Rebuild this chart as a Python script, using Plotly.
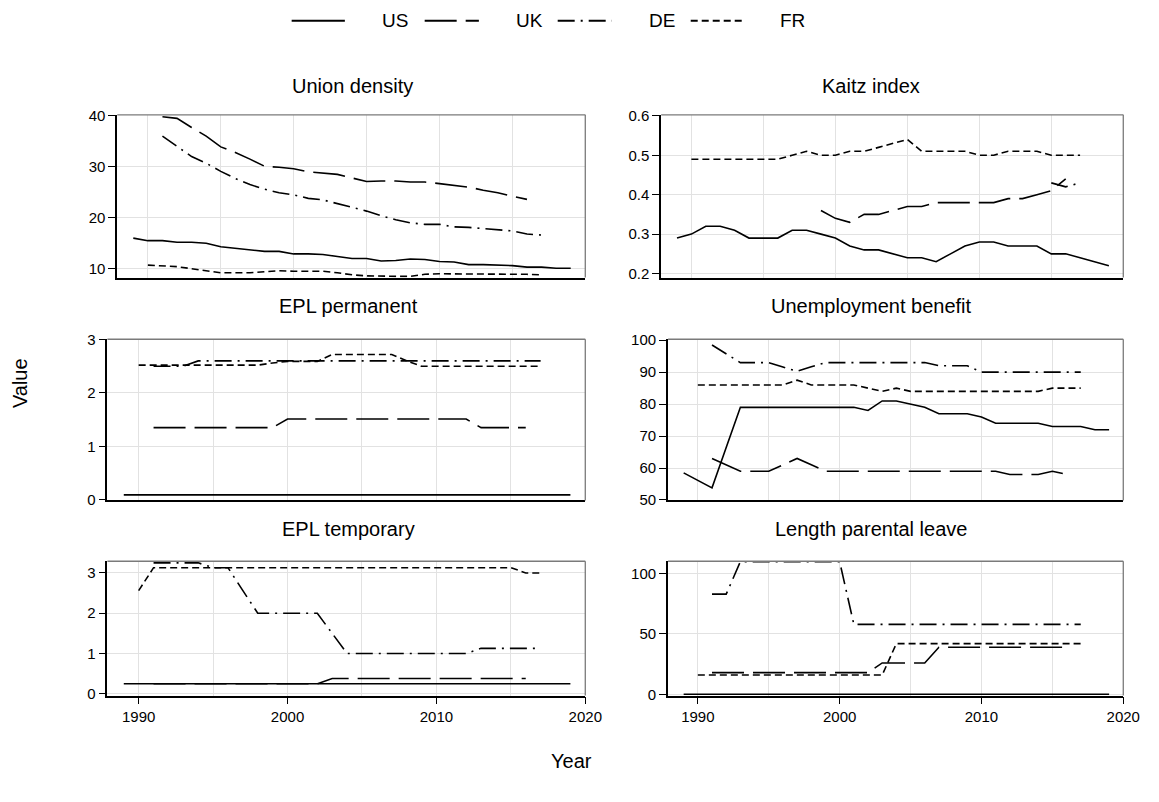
import plotly.graph_objects as go

W, H = 1159, 802
FONT = "Liberation Sans, Arial, Helvetica, sans-serif"

# ---------------- data ----------------
COUNTRIES = ["US", "UK", "DE", "FR"]

# Union density
ud_us_start, ud_us = 1989, [16.0, 15.5, 15.5, 15.2, 15.2, 15.0, 14.3, 14.0, 13.6, 13.4, 13.4, 12.9, 12.9, 12.8, 12.4, 12.0,
                            12.0, 11.5, 11.6, 11.9, 11.8, 11.4, 11.3, 10.8, 10.8, 10.7, 10.6, 10.3, 10.3, 10.1, 10.1]
ud_uk_start, ud_uk = 1991, [39.8, 39.5, 37.7, 36.0, 33.9, 32.8, 31.5, 30.1, 29.9, 29.6, 29.0, 28.7, 28.5, 27.8, 27.1,
                            27.2, 27.2, 27.0, 27.0, 26.7, 26.4, 26.0, 25.4, 24.9, 24.2, 23.6]
ud_de_start, ud_de = 1991, [36.0, 34.0, 32.0, 30.7, 29.1, 27.7, 26.5, 25.6, 24.9, 24.5, 23.8, 23.5, 22.8, 22.1, 21.3,
                            20.4, 19.6, 19.0, 18.7, 18.7, 18.2, 18.1, 17.9, 17.7, 17.4, 16.8, 16.6]
ud_fr_start, ud_fr = 1990, [10.7, 10.5, 10.4, 10.0, 9.6, 9.2, 9.2, 9.2, 9.4, 9.6, 9.5, 9.5, 9.5, 9.2, 8.8, 8.6, 8.5,
                            8.5, 8.5, 8.9, 9.0, 9.0, 9.0, 9.0, 9.0, 8.9, 8.9, 8.8]

# Kaitz index
kz_us_start, kz_us = 1989, [0.29, 0.30, 0.32, 0.32, 0.31, 0.29, 0.29, 0.29, 0.31, 0.31, 0.30, 0.29, 0.27, 0.26, 0.26,
                            0.25, 0.24, 0.24, 0.23, 0.25, 0.27, 0.28, 0.28, 0.27, 0.27, 0.27, 0.25, 0.25, 0.24, 0.23, 0.22]
kz_uk_start, kz_uk = 1999, [0.36, 0.34, 0.33, 0.35, 0.35, 0.36, 0.37, 0.37, 0.38, 0.38, 0.38, 0.38, 0.38, 0.39, 0.39,
                            0.40, 0.41, 0.44]
kz_de_start, kz_de = 2015, [0.43, 0.42, 0.43]
kz_fr_start, kz_fr = 1990, [0.49, 0.49, 0.49, 0.49, 0.49, 0.49, 0.49, 0.50, 0.51, 0.50, 0.50, 0.51, 0.51, 0.52, 0.53,
                            0.54, 0.51, 0.51, 0.51, 0.51, 0.50, 0.50, 0.51, 0.51, 0.51, 0.50, 0.50, 0.50]

# EPL permanent
ep_us_start, ep_us = 1989, [0.09, 0.09, 0.09, 0.09, 0.09, 0.09, 0.09, 0.09, 0.09, 0.09, 0.09, 0.09, 0.09, 0.09, 0.09,
                            0.09, 0.09, 0.09, 0.09, 0.09, 0.09, 0.09, 0.09, 0.09, 0.09, 0.09, 0.09, 0.09, 0.09, 0.09, 0.09]
ep_uk_start, ep_uk = 1991, [1.35, 1.35, 1.35, 1.35, 1.35, 1.35, 1.35, 1.35, 1.35, 1.51, 1.51, 1.51, 1.51, 1.51, 1.51,
                            1.51, 1.51, 1.51, 1.51, 1.51, 1.51, 1.51, 1.35, 1.35, 1.35, 1.35]
ep_de_start, ep_de = 1991, [2.50, 2.50, 2.50, 2.60, 2.60, 2.60, 2.60, 2.60, 2.60, 2.60, 2.60, 2.60, 2.60, 2.60, 2.60,
                            2.60, 2.60, 2.60, 2.60, 2.60, 2.60, 2.60, 2.60, 2.60, 2.60, 2.60, 2.60]
ep_fr_start, ep_fr = 1990, [2.52, 2.52, 2.52, 2.52, 2.52, 2.52, 2.52, 2.52, 2.52, 2.56, 2.59, 2.59, 2.59, 2.72, 2.72,
                            2.72, 2.72, 2.72, 2.60, 2.50, 2.50, 2.50, 2.50, 2.50, 2.50, 2.50, 2.50, 2.50]

# Unemployment benefit
ub_us_start, ub_us = 1989, [58.5, 56.2, 53.8, 66.4, 79, 79, 79, 79, 79, 79, 79, 79, 79, 78, 81, 81, 80, 79, 77, 77,
                            77, 76, 74, 74, 74, 74, 73, 73, 73, 72, 72]
ub_uk_start, ub_uk = 1991, [63, 61, 59, 59, 59, 61, 63, 61, 59, 59, 59, 59, 59, 59, 59, 59, 59, 59, 59, 59, 59, 58,
                            58, 58, 59, 58]
ub_de_start, ub_de = 1991, [98.5, 95.8, 93, 93, 93, 91.6, 90.3, 91.7, 93, 93, 93, 93, 93, 93, 93, 93, 92, 92, 92, 90,
                            90, 90, 90, 90, 90, 90, 90]
ub_fr_start, ub_fr = 1990, [86, 86, 86, 86, 86, 86, 86, 87.5, 86, 86, 86, 86, 85, 84, 85, 84, 84, 84, 84, 84, 84, 84,
                            84, 84, 84, 85, 85, 85]

# EPL temporary
et_us_start, et_us = 1989, [0.25, 0.25, 0.25, 0.25, 0.25, 0.25, 0.25, 0.25, 0.25, 0.25, 0.25, 0.25, 0.25, 0.25, 0.25,
                            0.25, 0.25, 0.25, 0.25, 0.25, 0.25, 0.25, 0.25, 0.25, 0.25, 0.25, 0.25, 0.25, 0.25, 0.25, 0.25]
et_uk_start, et_uk = 1991, [0.25, 0.25, 0.25, 0.25, 0.25, 0.25, 0.25, 0.25, 0.25, 0.25, 0.25, 0.25, 0.38, 0.38, 0.38,
                            0.38, 0.38, 0.38, 0.38, 0.38, 0.38, 0.38, 0.38, 0.38, 0.38, 0.38]
et_de_start, et_de = 1991, [3.25, 3.25, 3.25, 3.25, 3.13, 3.13, 2.56, 2.0, 2.0, 2.0, 2.0, 2.0, 1.5, 1.0, 1.0, 1.0, 1.0,
                            1.0, 1.0, 1.0, 1.0, 1.0, 1.13, 1.13, 1.13, 1.13, 1.13]
et_fr_start, et_fr = 1990, [2.56, 3.13, 3.13, 3.13, 3.13, 3.13, 3.13, 3.13, 3.13, 3.13, 3.13, 3.13, 3.13, 3.13, 3.13,
                            3.13, 3.13, 3.13, 3.13, 3.13, 3.13, 3.13, 3.13, 3.13, 3.13, 3.13, 3.0, 3.0]

# Length parental leave
pl_us_start, pl_us = 1989, [0, 0, 0, 0, 0, 0, 0, 0, 0, 0, 0, 0, 0, 0, 0, 0, 0, 0, 0, 0, 0, 0, 0, 0, 0, 0, 0, 0, 0, 0, 0]
pl_uk_start, pl_uk = 1991, [18, 18, 18, 18, 18, 18, 18, 18, 18, 18, 18, 18, 26, 26, 26, 26, 39, 39, 39, 39, 39, 39,
                            39, 39, 39, 39]
pl_de_start, pl_de = 1991, [83, 83, 110, 110, 110, 110, 110, 110, 110, 110, 58, 58, 58, 58, 58, 58, 58, 58, 58, 58,
                            58, 58, 58, 58, 58, 58, 58]
pl_fr_start, pl_fr = 1990, [16, 16, 16, 16, 16, 16, 16, 16, 16, 16, 16, 16, 16, 16, 42, 42, 42, 42, 42, 42, 42, 42,
                            42, 42, 42, 42, 42, 42]

PANEL_TITLES = ["Union density", "Kaitz index", "EPL permanent", "Unemployment benefit",
                "EPL temporary", "Length parental leave"]
PANEL_SERIES = [
    [(ud_us_start, ud_us), (ud_uk_start, ud_uk), (ud_de_start, ud_de), (ud_fr_start, ud_fr)],
    [(kz_us_start, kz_us), (kz_uk_start, kz_uk), (kz_de_start, kz_de), (kz_fr_start, kz_fr)],
    [(ep_us_start, ep_us), (ep_uk_start, ep_uk), (ep_de_start, ep_de), (ep_fr_start, ep_fr)],
    [(ub_us_start, ub_us), (ub_uk_start, ub_uk), (ub_de_start, ub_de), (ub_fr_start, ub_fr)],
    [(et_us_start, et_us), (et_uk_start, et_uk), (et_de_start, et_de), (et_fr_start, et_fr)],
    [(pl_us_start, pl_us), (pl_uk_start, pl_uk), (pl_de_start, pl_de), (pl_fr_start, pl_fr)],
]
Y_TICKS = [[10, 20, 30, 40], [0.2, 0.3, 0.4, 0.5, 0.6], [0, 1, 2, 3],
           [50, 60, 70, 80, 90, 100], [0, 1, 2, 3], [0, 50, 100]]
X_TICKS = [1990, 2000, 2010, 2020]
X_MINOR = [1995, 2005, 2015]

# ---------------- layout / style ----------------
Y_RANGES = [[8.27, 40.19], [0.19, 0.6025], [-0.015, 3.005], [49.85, 100.3], [-0.04, 3.29], [-1.0, 110.3]]
X_RANGE = [1987.9, 2020]
# pixel boxes (x0, x1, ytop, ybottom)
BOXES = [(119, 594, 109, 275), (671, 1140, 109, 275),
         (109, 594, 338, 502.5), (678, 1140, 338, 502.5),
         (109, 594, 564.5, 701.5), (678, 1140, 564.5, 701.5)]
TITLE_Y = [80, 304, 532]
TITLE_X = [358, 884, 354, 884, 354, 884]
DASHES = {"US": "solid", "UK": "32px,9px", "DE": "17px,6px,2px,6px", "FR": "7px,4px"}
GRID = "#e2e2e2"
BORDER = "#7a7a7a"
TICK_SIZE = 15
TEXT_SIZE = 20
LEGEND_SIZE = 19


def fx(p):
    return p / W


def fy(p):
    return 1 - p / H


fig = go.Figure()
layout = dict(
    width=W, height=H, autosize=False,
    margin=dict(l=0, r=0, t=0, b=0),
    paper_bgcolor="white", plot_bgcolor="white",
    showlegend=False,
    font=dict(family=FONT, color="black"),
)
shapes = []
annotations = []

for i, (title, series) in enumerate(zip(PANEL_TITLES, PANEL_SERIES)):
    n = i + 1
    sx = "" if n == 1 else str(n)
    x0, x1, yt, yb = BOXES[i]
    bottom = i >= 4
    for country, (start, vals) in zip(COUNTRIES, series):
        years = list(range(start, start + len(vals)))
        fig.add_trace(go.Scatter(
            x=years, y=vals, mode="lines", name=country,
            line=dict(color="black", width=1.6, dash=DASHES[country]),
            xaxis="x" + sx, yaxis="y" + sx, hoverinfo="skip",
        ))
    layout["xaxis" + sx] = dict(
        domain=[fx(x0), fx(x1)], range=X_RANGE, anchor="y" + sx,
        tickvals=X_TICKS, showticklabels=bottom,
        ticks="outside" if bottom else "", ticklen=7, tickwidth=1, tickcolor="black",
        showgrid=True, gridcolor=GRID, gridwidth=1,
        minor=dict(tickvals=X_MINOR, showgrid=True, gridcolor=GRID, gridwidth=1, ticks=""),
        showline=True, linecolor="black", linewidth=1.8, zeroline=False,
        tickfont=dict(size=TICK_SIZE, color="black", family=FONT),
    )
    layout["yaxis" + sx] = dict(
        domain=[fy(yb), fy(yt)], range=Y_RANGES[i], anchor="x" + sx,
        tickvals=Y_TICKS[i], ticks="outside", ticklen=7, tickwidth=1, tickcolor="black",
        showgrid=True, gridcolor=GRID, gridwidth=1,
        showline=True, linecolor="black", linewidth=1.8, zeroline=False,
        tickfont=dict(size=TICK_SIZE, color="black", family=FONT),
    )
    # gray top and right frame
    shapes.append(dict(type="line", xref="x%s domain" % sx, yref="y%s domain" % sx,
                       x0=0, x1=1, y0=1, y1=1, line=dict(color=BORDER, width=1.3), layer="above"))
    shapes.append(dict(type="line", xref="x%s domain" % sx, yref="y%s domain" % sx,
                       x0=1, x1=1, y0=0, y1=1, line=dict(color=BORDER, width=1.3), layer="above"))
    annotations.append(dict(text=title, xref="paper", yref="paper",
                            x=fx(TITLE_X[i]), y=fy(TITLE_Y[i // 2]),
                            xanchor="center", yanchor="middle", showarrow=False,
                            font=dict(size=TEXT_SIZE, color="black", family=FONT)))

# axis titles
annotations.append(dict(text="Value", xref="paper", yref="paper", x=fx(21), y=fy(383),
                        textangle=-90, showarrow=False, xanchor="center", yanchor="middle",
                        font=dict(size=TEXT_SIZE, color="black", family=FONT)))
annotations.append(dict(text="Year", xref="paper", yref="paper", x=fx(580), y=fy(768),
                        showarrow=False, xanchor="center", yanchor="middle",
                        font=dict(size=TEXT_SIZE, color="black", family=FONT)))

# legend (drawn manually to match the long line samples)
LEG_LINE_X = [(296, 350), (431, 486), (566, 621), (701, 756)]
LEG_TEXT_X = [386, 522, 657, 790]
LEG_Y = 13
for country, (lx0, lx1), tx in zip(COUNTRIES, LEG_LINE_X, LEG_TEXT_X):
    shapes.append(dict(type="line", xref="paper", yref="paper",
                       x0=fx(lx0), x1=fx(lx1), y0=fy(LEG_Y), y1=fy(LEG_Y),
                       line=dict(color="black", width=1.8, dash=DASHES[country])))
    annotations.append(dict(text=country, xref="paper", yref="paper", x=fx(tx), y=fy(LEG_Y),
                            xanchor="left", yanchor="middle", showarrow=False,
                            font=dict(size=LEGEND_SIZE, color="black", family=FONT)))

layout["shapes"] = shapes
layout["annotations"] = annotations
fig.update_layout(**layout)
fig.write_html("out.html")
